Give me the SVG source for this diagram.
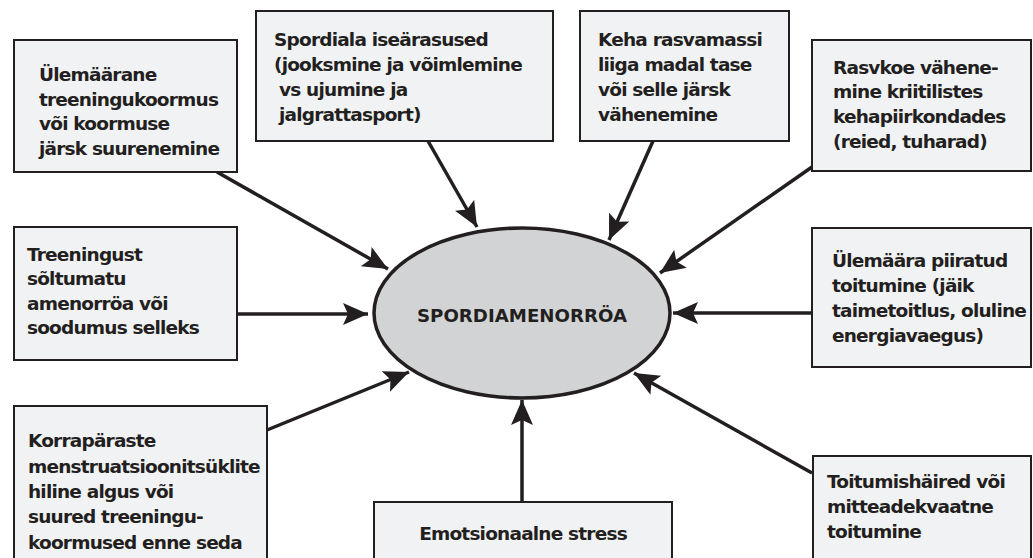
<svg xmlns="http://www.w3.org/2000/svg" width="1033" height="558" viewBox="0 0 1033 558">
<style>
.box{fill:#f1f2f4;stroke:#231f20;stroke-width:2}
.t{font-family:"DejaVu Sans",Verdana,sans-serif;font-weight:bold;font-size:18.5px;letter-spacing:-0.8px;fill:#231f20}
.c{stroke:#231f20;stroke-width:3.5;fill:none;marker-end:url(#ah)}
</style>
<defs>
<marker id="ah" markerUnits="userSpaceOnUse" markerWidth="26" markerHeight="24" refX="25" refY="11" orient="auto">
<path d="M0,0 L25,11 L0,22 L5,11 z" fill="#231f20"/>
</marker>
</defs>
<rect width="1033" height="558" fill="#ffffff"/>
<g id="connectors">
<line class="c" x1="217" y1="172" x2="388" y2="269"/>
<line class="c" x1="428" y1="141" x2="477" y2="227"/>
<line class="c" x1="653" y1="141" x2="609" y2="240"/>
<line class="c" x1="812" y1="167" x2="660" y2="273"/>
<line class="c" x1="237" y1="314" x2="368" y2="314"/>
<line class="c" x1="812" y1="313" x2="673" y2="313"/>
<line class="c" x1="267" y1="430" x2="409" y2="372"/>
<line class="c" x1="522" y1="502" x2="522" y2="400"/>
<line class="c" x1="812" y1="473" x2="634" y2="373"/>
</g>
<g id="center">
<ellipse cx="522" cy="313" rx="148" ry="85" fill="#d1d3d4" stroke="#231f20" stroke-width="3.5"/>
<text class="t" x="522" y="322" text-anchor="middle" font-size="17" style="letter-spacing:0" textLength="210" lengthAdjust="spacingAndGlyphs">SPORDIAMENORRÖA</text>
</g>
<g id="n1">
<rect class="box" x="14" y="40" width="223" height="132"/>
<text class="t" x="39" y="81">Ülemäärane</text>
<text class="t" x="39" y="106">treeningukoormus</text>
<text class="t" x="39" y="130">või koormuse</text>
<text class="t" x="39" y="155">järsk suurenemine</text>
</g>
<g id="n2">
<rect class="box" x="256" y="11" width="297" height="130"/>
<text class="t" x="274" y="46">Spordiala iseärasused</text>
<text class="t" x="274" y="71">(jooksmine ja võimlemine</text>
<text class="t" x="279" y="96">vs ujumine ja</text>
<text class="t" x="279" y="121">jalgrattasport)</text>
</g>
<g id="n3">
<rect class="box" x="580" y="11" width="209" height="130"/>
<text class="t" x="598" y="46">Keha rasvamassi</text>
<text class="t" x="598" y="71">liiga madal tase</text>
<text class="t" x="598" y="96">või selle järsk</text>
<text class="t" x="598" y="121">vähenemine</text>
</g>
<g id="n4">
<rect class="box" x="812" y="40" width="219" height="131"/>
<text class="t" x="833" y="74">Rasvkoe vähene-</text>
<text class="t" x="833" y="98">mine kriitilistes</text>
<text class="t" x="833" y="123">kehapiirkondades</text>
<text class="t" x="833" y="148">(reied, tuharad)</text>
</g>
<g id="n5">
<rect class="box" x="14" y="227" width="223" height="133"/>
<text class="t" x="27" y="261">Treeningust</text>
<text class="t" x="27" y="285">sõltumatu</text>
<text class="t" x="27" y="310">amenorröa või</text>
<text class="t" x="27" y="334">soodumus selleks</text>
</g>
<g id="n6">
<rect class="box" x="812" y="228" width="219" height="139"/>
<text class="t" x="832" y="267">Ülemäära piiratud</text>
<text class="t" x="832" y="292">toitumine (jäik</text>
<text class="t" x="832" y="317">taimetoitlus, oluline</text>
<text class="t" x="832" y="342">energiavaegus)</text>
</g>
<g id="n7">
<rect class="box" x="14" y="406" width="253" height="160"/>
<text class="t" x="28" y="447">Korrapäraste</text>
<text class="t" x="28" y="473">menstruatsioonitsüklite</text>
<text class="t" x="28" y="498">hiline algus või</text>
<text class="t" x="28" y="523">suured treeningu-</text>
<text class="t" x="28" y="549">koormused enne seda</text>
</g>
<g id="n8">
<rect class="box" x="374" y="502" width="298" height="64"/>
<text class="t" x="523" y="540" text-anchor="middle">Emotsionaalne stress</text>
</g>
<g id="n9">
<rect class="box" x="813" y="456" width="218" height="110"/>
<text class="t" x="827" y="488">Toitumishäired või</text>
<text class="t" x="827" y="513">mitteadekvaatne</text>
<text class="t" x="827" y="538">toitumine</text>
</g>
</svg>
